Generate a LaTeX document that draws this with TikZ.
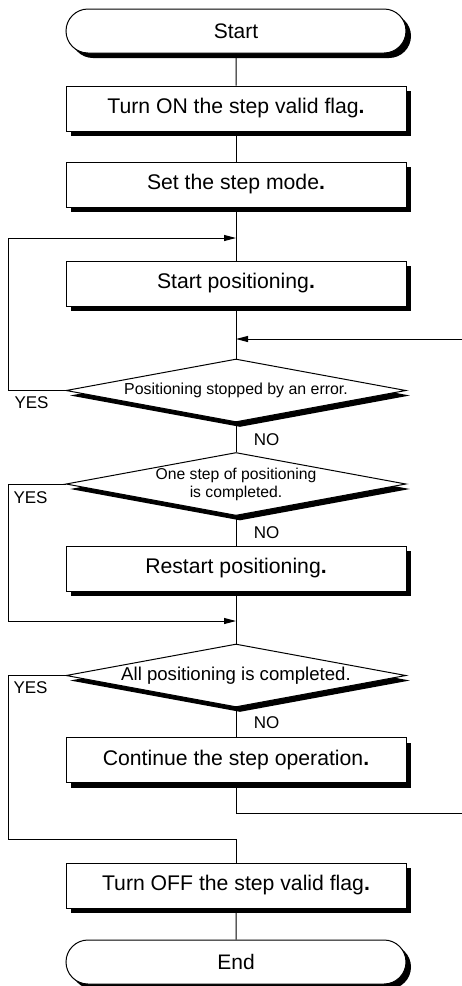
\documentclass[tikz,border=0pt]{standalone}
\usepackage{fontspec}
\setmainfont{Liberation Sans}
\usetikzlibrary{shapes.geometric,shapes.misc,shadows,arrows.meta}
\begin{document}
\begin{tikzpicture}[x=1pt,y=-1pt,
  line width=1pt,
  shad/.style={drop shadow={shadow xshift=5pt,shadow yshift=-5pt,opacity=1,fill=black}},
  procbox/.style={draw,fill=white,rectangle,minimum width=340pt,minimum height=45pt,inner sep=0pt,font=\fontsize{21.2}{24}\selectfont,shad},
  term/.style={draw,fill=white,rounded rectangle,minimum width=340pt,minimum height=44pt,inner sep=0pt,font=\fontsize{21}{24}\selectfont,shad},
  decision/.style={draw,fill=white,diamond,shape aspect=5.4,minimum width=340pt,minimum height=63pt,inner sep=0pt,
    drop shadow={shadow xshift=4pt,shadow yshift=-5pt,opacity=1,fill=black}},
  yn/.style={font=\fontsize{17}{20}\selectfont,inner sep=0pt},
  arr/.style={-{Triangle[length=12pt,width=6pt]}}
]
\fill[white] (0,0) rectangle (462,986);
\useasboundingbox (0,0) rectangle (462,986);

\node[term] (start) at (236,31) {Start};
\node[procbox] (b1) at (236,108.5) {Turn ON the step valid flag\textbf{.}};
\node[procbox] (b2) at (236,184.5) {Set the step mode\textbf{.}};
\coordinate (j1) at (236,238);
\node[procbox] (b3) at (236,283.5) {Start positioning\textbf{.}};
\coordinate (j2) at (236,339);
\coordinate (r1) at (462,339);
\node[decision,font=\fontsize{15.9}{18}\selectfont] (d1) at (236,390.5) {\raisebox{-1.5pt}{Positioning stopped by an error.}};
\node[decision,font=\fontsize{15.7}{18}\selectfont,align=center] (d2) at (236,484) {One step of positioning\\is completed.};
\node[procbox] (b4) at (236,568.5) {Restart positioning\textbf{.}};
\coordinate (j3) at (236,621);
\node[decision,font=\fontsize{18.6}{21}\selectfont] (d3) at (236,675.5) {All positioning is completed.};
\node[procbox] (b5) at (236,760) {Continue the step operation\textbf{.}};
\coordinate (r2) at (462,813);
\coordinate (j4) at (236,839);
\node[procbox] (b6) at (236,885.5) {Turn OFF the step valid flag\textbf{.}};
\node[term] (end) at (236,962) {End};

\coordinate (l1) at (8,390.5);
\coordinate (l2) at (8,484);
\coordinate (l3) at (8,675.5);

\draw (start) -- (b1);
\draw (b1) -- (b2);
\draw (b2) -- (b3);
\draw (b3) -- (d1);
\draw (d1) -- (d2);
\draw (d2) -- (b4);
\draw (b4) -- (d3);
\draw (d3) -- (b5);
\draw (b6) -- (end);

\draw[arr] (d1.west) -- (l1) |- (j1);
\draw[arr] (r1) -- (j2);
\draw[arr] (d2.west) -- (l2) |- (j3);
\draw (d3.west) -- (l3) |- (j4) -- (b6.north);
\draw (b5.south) |- (r2);

\node[yn,anchor=west] (y1) at (14,403) {YES};
\node[yn,anchor=west] (y2) at (13,498) {YES};
\node[yn,anchor=west] (y3) at (13,688) {YES};
\node[yn] (n1) at (266.5,440) {NO};
\node[yn] (n2) at (266.5,533) {NO};
\node[yn] (n3) at (266.5,723) {NO};
\end{tikzpicture}
\end{document}
